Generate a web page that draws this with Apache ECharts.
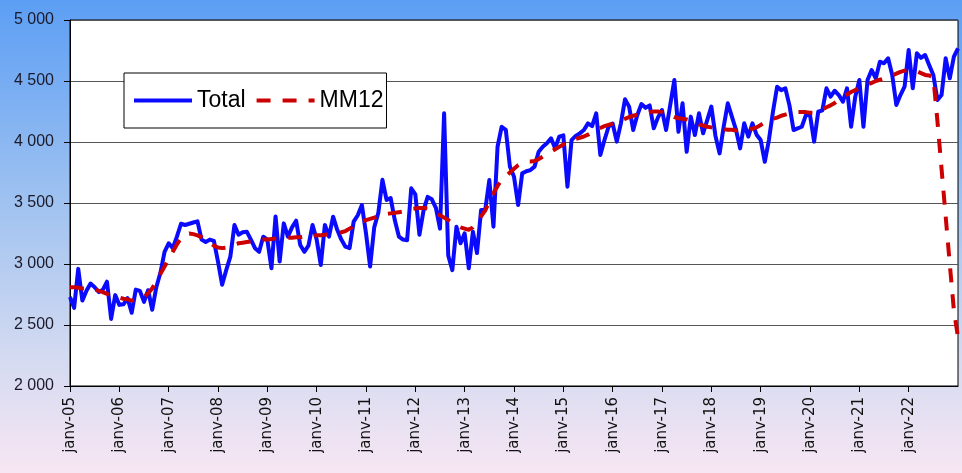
<!DOCTYPE html>
<html>
<head>
<meta charset="utf-8">
<script src="https://cdn.jsdelivr.net/npm/echarts@6/dist/echarts.min.js"></script>
<style>
html,body{margin:0;padding:0;}
#chart{width:962px;height:473px;}
</style>
</head>
<body>
<div id="chart"></div>
<script>
// Month names (French abbreviations) and years used for the category axis
const monthNames = ['janv','févr','mars','avr','mai','juin','juil','août','sept','oct','nov','déc'];
const years = ['05','06','07','08','09','10','11','12','13','14','15','16','17','18','19','20','21','22','23'];
const pointCount = 217; // janv-05 .. janv-23

// Monthly totals, one row per year
const total = [
  2730, 2640, 2960, 2700, 2780, 2840, 2810, 2770, 2790, 2855, 2550, 2745,
  2665, 2670, 2720, 2600, 2790, 2780, 2690, 2785, 2625, 2810, 2930, 3100,
  3170, 3130, 3225, 3330, 3320, 3330, 3340, 3350, 3200, 3180, 3200, 3190,
  3020, 2830, 2950, 3060, 3320, 3240, 3260, 3265, 3200, 3130, 3100, 3224,
  3200, 2965, 3390, 3020, 3333, 3224, 3300, 3355, 3156, 3100, 3150, 3320,
  3200, 2992, 3320, 3224, 3388, 3280, 3200, 3142, 3130, 3347, 3400, 3483,
  3251, 2980, 3300, 3420, 3690, 3525, 3540, 3360, 3225, 3200, 3195, 3620,
  3570, 3240, 3440, 3550, 3530, 3460, 3290, 4235, 3070, 2950, 3306, 3170,
  3251, 2965, 3265, 3090, 3443, 3443, 3688, 3306, 3961, 4125, 4100, 3800,
  3716, 3483, 3743, 3760, 3770, 3798, 3920, 3961, 3990, 4030, 3950, 4044,
  4055, 3634, 4016, 4050, 4071, 4098, 4153, 4130, 4235, 3893, 4016, 4125,
  4150, 4003, 4153, 4350, 4290, 4098, 4221, 4311, 4280, 4300, 4112, 4200,
  4262, 4098, 4303, 4508, 4084, 4317, 3920, 4208, 4057, 4235, 4071, 4180,
  4290, 4050, 3907, 4125, 4317, 4208, 4100, 3948, 4153, 4044, 4153, 4060,
  4016, 3838, 4016, 4250, 4453, 4425, 4440, 4300, 4098, 4112, 4125, 4221,
  4221, 4003, 4248, 4260, 4440, 4372, 4420, 4385, 4330, 4440, 4125, 4370,
  4508, 4125, 4508, 4590, 4522, 4658, 4645, 4686, 4549, 4303, 4385, 4453,
  4754, 4440, 4727, 4690, 4713, 4630, 4549, 4344, 4385, 4686, 4522, 4700,
  4768
];

// 12-month moving average (MM12)
const mm12 = [
  2810, 2810, 2805, 2800, 2800, 2795, 2790, 2780, 2770, 2755, 2745, 2735,
  2725, 2715, 2710, 2700, 2705, 2710, 2730, 2760, 2800, 2860, 2920, 2980,
  3040, 3100, 3160, 3210, 3240, 3250, 3245, 3235, 3220, 3200, 3175, 3150,
  3135, 3130, 3135, 3145, 3160, 3170, 3175, 3180, 3185, 3190, 3195, 3200,
  3200, 3205, 3210, 3210, 3215, 3215, 3215, 3220, 3220, 3225, 3230, 3230,
  3235, 3235, 3240, 3245, 3250, 3255, 3260, 3270, 3290, 3310, 3330, 3350,
  3360, 3370, 3380, 3390, 3400, 3410, 3415, 3420, 3425, 3430, 3440, 3450,
  3455, 3460, 3460, 3455, 3440, 3420, 3400, 3380, 3360, 3340, 3320, 3300,
  3290, 3280, 3300, 3340, 3390, 3440, 3510, 3580, 3640, 3690, 3720, 3750,
  3780, 3810, 3830, 3840, 3840, 3845, 3860, 3880, 3900, 3920, 3940, 3960,
  3980, 3995, 4010, 4025, 4035, 4045, 4060, 4080, 4100, 4115, 4130, 4140,
  4150, 4160, 4175, 4190, 4205, 4215, 4225, 4235, 4240, 4245, 4250, 4250,
  4245, 4235, 4220, 4205, 4195, 4190, 4185, 4175, 4160, 4145, 4135, 4125,
  4120, 4115, 4110, 4105, 4100, 4100, 4095, 4095, 4095, 4100, 4110, 4120,
  4140, 4160, 4180, 4190, 4200, 4215, 4225, 4235, 4240, 4245, 4245, 4245,
  4240, 4240, 4250, 4265, 4285, 4300, 4320, 4345, 4370, 4390, 4410, 4425,
  4440, 4455, 4470, 4485, 4500, 4510, 4520, 4530, 4545, 4560, 4575, 4585,
  4590, 4590, 4580, 4565, 4550, 4545, 4530, 4170, 3780, 3390, 3000, 2620,
  2400
];

const yMin = 2000, yMax = 5000, yStep = 500;
const seriesNames = ['Total', 'MM12'];

const categories = [];
for (let yi = 0; yi < years.length && categories.length < pointCount; yi++) {
  for (let m = 0; m < 12 && categories.length < pointCount; m++) {
    categories.push(monthNames[m] + '-' + years[yi]);
  }
}

const showYearTick = (idx) => idx % 12 === 0 && idx < pointCount - 1;

const chart = echarts.init(document.getElementById('chart'), null, {renderer: 'canvas'});
chart.setOption({
  animation: false,
  backgroundColor: {
    type: 'linear', x: 0, y: 0, x2: 0, y2: 1,
    colorStops: [
      {offset: 0, color: '#5c9ef4'},
      {offset: 0.45, color: '#a3c4f0'},
      {offset: 0.75, color: '#d3daf1'},
      {offset: 1, color: '#f7e6f3'}
    ]
  },
  grid: {
    left: 70, top: 20, width: 888, height: 366,
    show: true, backgroundColor: '#ffffff', borderColor: '#000000', borderWidth: 1
  },
  legend: {
    data: seriesNames,
    left: 124, top: 73,
    orient: 'horizontal',
    itemWidth: 58, itemHeight: 14, itemGap: 9,
    padding: [16, 3, 16, 8],
    backgroundColor: '#ffffff', borderColor: '#000000', borderWidth: 1, borderRadius: 0,
    itemStyle: {opacity: 0, borderWidth: 0},
    lineStyle: {width: 4},
    textStyle: {fontFamily: 'Liberation Sans', fontSize: 23, color: '#000000'}
  },
  xAxis: {
    type: 'category',
    data: categories,
    boundaryGap: false,
    axisLine: {lineStyle: {color: '#000000', width: 1}},
    axisTick: {show: true, interval: showYearTick, length: 6, lineStyle: {color: '#000000'}},
    axisLabel: {
      interval: showYearTick, rotate: 90, margin: 11,
      fontFamily: 'DejaVu Sans', fontSize: 15, color: '#111111'
    },
    splitLine: {show: false}
  },
  yAxis: {
    type: 'value',
    min: yMin, max: yMax, interval: yStep,
    axisLine: {show: true, lineStyle: {color: '#000000', width: 1}},
    axisTick: {show: true, length: 6, lineStyle: {color: '#000000'}},
    axisLabel: {
      margin: 16, fontFamily: 'Liberation Sans', fontSize: 16, color: '#1a1a2a',
      formatter: (v) => String(v).replace(/\B(?=(\d{3})+(?!\d))/g, ' ')
    },
    splitLine: {show: true, lineStyle: {color: '#555555', width: 1}}
  },
  series: [
    {
      name: seriesNames[0], type: 'line', data: total,
      symbol: 'none', showSymbol: false,
      color: '#0a0aff',
      lineStyle: {color: '#0a0aff', width: 4, join: 'round'}
    },
    {
      name: seriesNames[1], type: 'line', data: mm12,
      symbol: 'none', showSymbol: false,
      color: '#cc0000',
      lineStyle: {color: '#cc0000', width: 4, type: [14, 12]}
    }
  ]
});
</script>
</body>
</html>
